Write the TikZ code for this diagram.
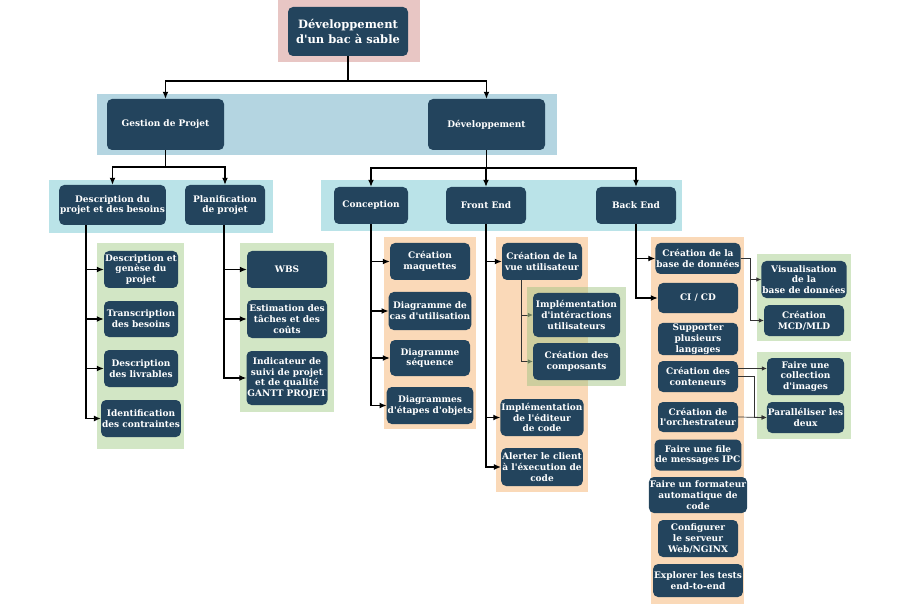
\documentclass[tikz,border=0pt]{standalone}
\usepackage{fontspec}
\setmainfont{DejaVu Serif}[Ligatures=TeXOff]
\usetikzlibrary{arrows.meta}
\definecolor{navy}{HTML}{23445D}
\definecolor{pinkbg}{HTML}{E8C6C4}
\definecolor{bluebg}{HTML}{B4D5E1}
\definecolor{cyanbg}{HTML}{BAE3E8}
\definecolor{greenbg}{HTML}{D2E6C5}
\definecolor{orangebg}{HTML}{FAD9B8}
\definecolor{olivebg}{HTML}{A3C585}

\begin{document}
\begin{tikzpicture}
  [x=1pt,y=-1pt,
   box/.style={rectangle,rounded corners=5pt,fill=navy,text=white,align=center,inner sep=1pt,
     font=\bfseries\fontsize{9}{10.8}\selectfont},
   sz/.style 2 args={minimum width=#1pt,minimum height=#2pt},
   arr/.style={line width=1.3pt,-{Latex[length=7pt,width=6pt]}},
   tarr/.style={line width=0.7pt,draw=black!80,-{Latex[length=5pt,width=4.5pt]}}]
  \useasboundingbox (0,0) rectangle (900,604);

  % fonds
  \fill[pinkbg] (278,0) rectangle (420,62);
  \fill[bluebg] (97,94) rectangle (557,155);
  \fill[cyanbg] (49,180) rectangle (273,233);
  \fill[cyanbg] (321,180) rectangle (682,231);
  \fill[greenbg] (97,243) rectangle (184,449);
  \fill[greenbg] (240,243) rectangle (334,412);
  \fill[orangebg] (384,237) rectangle (476,429);
  \fill[orangebg] (496,237) rectangle (588,492);
  \fill[orangebg] (651,237) rectangle (744,604);
  \fill[greenbg] (757,254) rectangle (851,341);
  \fill[greenbg] (757,352) rectangle (851,439);

  \node[box,sz={120}{49},font=\bfseries\fontsize{11.5}{14.5}\selectfont] (racine) at (348,31.5) {Développement\\d'un bac à sable};
  \node[box,sz={117}{51}] (gestion) at (165.5,124.5) {Gestion de Projet};
  \node[box,sz={117}{51}] (dev) at (486.5,124.5) {Développement};

  \node[box,sz={105}{40}] (descproj) at (112.5,205) {Description du\\projet et des besoins};
  \node[box,sz={80}{40}] (planif) at (225,205) {Planification\\de projet};
  \node[box,sz={74}{37}] (concep) at (371,205.5) {Conception};
  \node[box,sz={80}{37}] (front) at (486,205.5) {Front End};
  \node[box,sz={80}{37}] (back) at (636,205.5) {Back End};

  \node[box,sz={74}{37}] (genese) at (141,269.5) {Description et\\genèse du\\projet};
  \node[box,sz={74}{36}] (transc) at (141,319) {Transcription\\des besoins};
  \node[box,sz={74}{37}] (livr) at (141,368.5) {Description\\des livrables};
  \node[box,sz={74}{37}] (contr) at (141,418.5) {Identification\\des contraintes};

  \node[box,sz={80}{37}] (wbs) at (287,269.5) {WBS};
  \node[box,sz={80}{38}] (estim) at (287,319) {Estimation des\\tâches et des\\coûts};
  \node[box,sz={80}{54}] (indic) at (287,378) {Indicateur de\\suivi de projet\\et de qualité\\GANTT PROJET};

  \node[box,sz={80}{37}] (maq) at (430,261.5) {Création\\maquettes};
  \node[box,sz={80}{38}] (cas) at (430,311) {Diagramme de\\cas d'utilisation};
  \node[box,sz={80}{36}] (seq) at (430,358) {Diagramme\\séquence};
  \node[box,sz={80}{37}] (etapes) at (430,405.5) {Diagrammes\\d'étapes d'objets};

  \node[box,sz={80}{37}] (vue) at (542,261.5) {Création de la\\vue utilisateur};
  \node[box,sz={80}{37}] (editeur) at (542,417.5) {Implémentation\\de l'éditeur\\de code};
  \node[box,sz={80}{38}] (alerte) at (542,467) {Alerter le client\\à l'éxecution de\\code};

  \node[box,sz={80}{31}] (bdd) at (698,258.5) {Création de la\\base de données};
  \node[box,sz={80}{30}] (cicd) at (698,298) {CI / CD};
  \node[box,sz={80}{30}] (lang) at (698,339) {Supporter\\plusieurs\\ langages};
  \node[box,sz={80}{31}] (cont) at (698,376.5) {Création des\\conteneurs};
  \node[box,sz={80}{30}] (orch) at (698,417) {Création de\\l'orchestrateur};
  \node[box,sz={80}{31}] (ipc) at (698,455) {Faire une file\\de messages IPC};
  \node[box,sz={87}{36}] (format) at (698,495) {Faire un formateur\\automatique de\\code};
  \node[box,sz={80}{37}] (nginx) at (698,538.5) {Configurer\\le serveur\\Web/NGINX};
  \node[box,sz={84}{33}] (e2e) at (698,580.5) {Explorer les tests\\end-to-end};

  \node[box,sz={80}{37}] (visu) at (804,279.5) {Visualisation\\de la\\base de données};
  \node[box,sz={80}{31}] (mcd) at (804,320.5) {Création\\MCD/MLD};
  \node[box,sz={77}{37}] (coll) at (805.5,376.5) {Faire une\\collection\\d'images};
  \node[box,sz={77}{31}] (para) at (805.5,417.5) {Paralléliser les\\deux};

  % liens
  \coordinate (j0) at (348,81);
  \draw[line width=1.3pt] (racine) -- (j0);
  \foreach \to in {gestion,dev}
    \draw[arr] (j0) -| (\to.north);

  \coordinate (j1) at (165.5,167);
  \draw[line width=1.3pt] (gestion) -- (j1);
  \foreach \to in {descproj,planif}
    \draw[arr] (j1) -| (\to.north);

  \coordinate (j2) at (486.5,168);
  \draw[line width=1.3pt] (dev) -- (j2);
  \foreach \to in {concep,front,back}
    \draw[arr] (j2) -| (\to.north);

  \coordinate (dl) at (86,0);
  \coordinate (pl) at (224,0);
  \foreach \to in {genese,transc,livr,contr}
    \draw[arr] (descproj.south -| dl) |- (\to.west);
  \foreach \to in {wbs,estim,indic}
    \draw[arr] (planif.south -| pl) |- (\to.west);
  \foreach \to in {maq,cas,seq,etapes}
    \draw[arr] (concep.south) |- (\to.west);
  \foreach \to in {vue,editeur,alerte}
    \draw[arr] (front.south) |- (\to.west);
  \foreach \to in {bdd,cicd}
    \draw[arr] (back.south) |- (\to.west);

  \coordinate (bx) at (750,0);
  \coordinate (cx) at (754,0);
  \foreach \to in {visu,mcd}
    \draw[tarr] (bdd.east) -- (bdd.east -| bx) |- (\to.west);
  \draw[tarr] ([yshift=8pt]cont.east) -- ([yshift=8pt]coll.west);
  \draw[tarr] (cont.east) -- (cont.east -| cx) |- (para.west);
  \draw[tarr] (orch.east) -- (para.west);

  \coordinate (vl) at (521,0);
  \node[sz={87}{44}] (interac) at (576.5,315) {};
  \node[sz={87}{37}] (compo) at (576.5,361.5) {};
  \foreach \to in {interac,compo}
    \draw[tarr] (vue.south -| vl) |- (\to.west);
  \fill[olivebg,opacity=.5] (527,287) rectangle (626,386);
  \node[box,sz={87}{44}] at (interac) {Implémentation\\d'intéractions\\utilisateurs};
  \node[box,sz={87}{37}] at (compo) {Création des\\composants};
\end{tikzpicture}
\end{document}
